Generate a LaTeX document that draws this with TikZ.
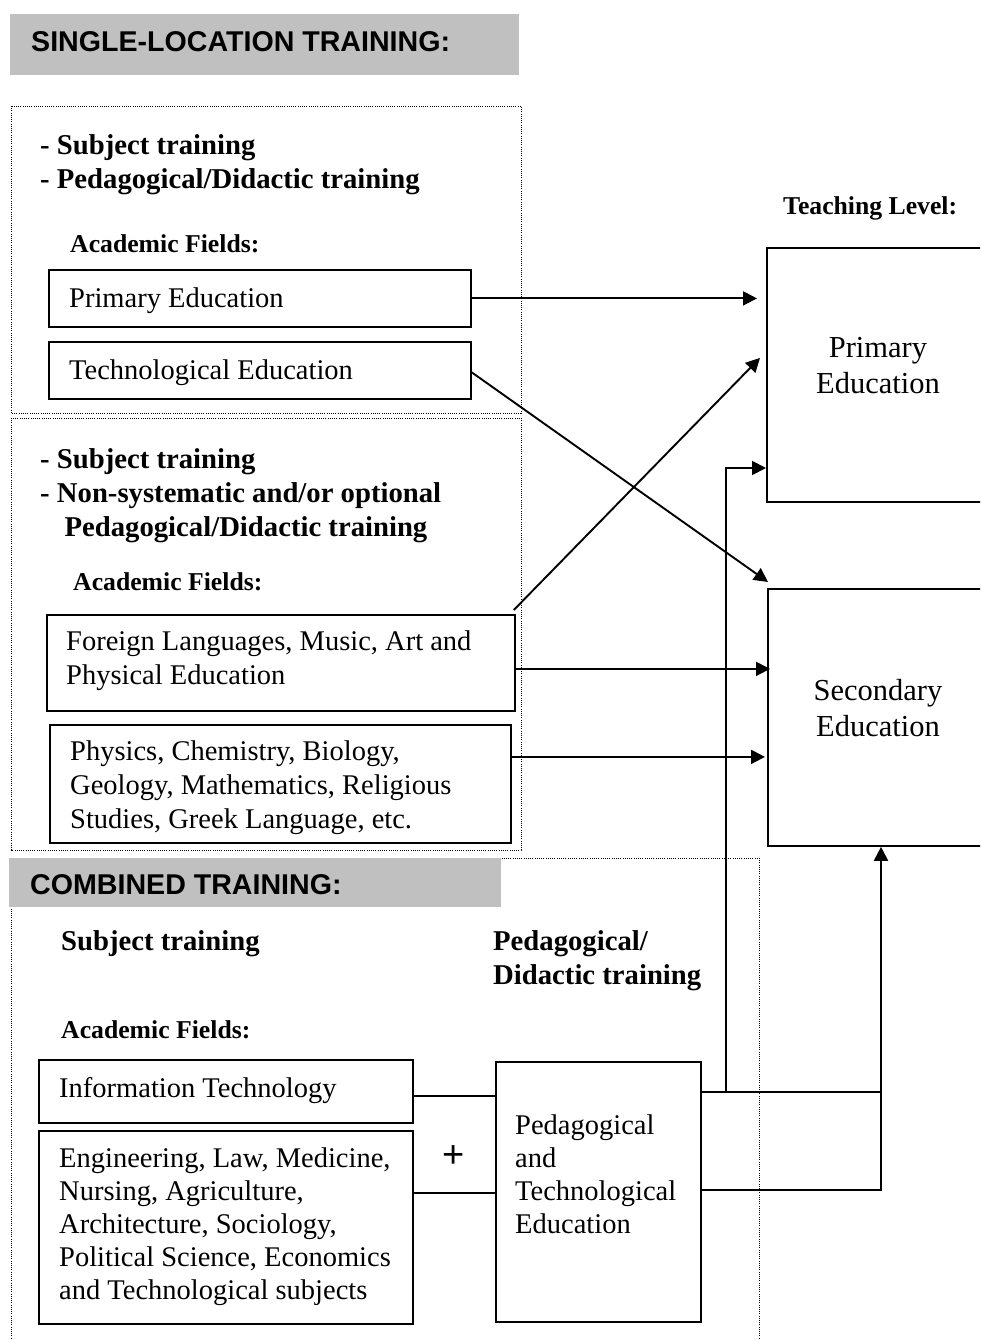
\documentclass[tikz,border=0pt]{standalone}
\usepackage{fontspec}
\setmainfont{Liberation Serif}
\setsansfont{Liberation Sans}
\usetikzlibrary{arrows.meta,calc}
\definecolor{headgray}{HTML}{C0C0C0}
\newcommand{\mlines}[1]{\begin{tabular}[t]{@{}l@{}}#1\end{tabular}}
\newcommand{\clines}[1]{\begin{tabular}[t]{@{}c@{}}#1\end{tabular}}
\begin{document}
\begin{tikzpicture}[x=1pt,y=-1pt,
  box/.style={draw,line width=1.8pt,inner sep=0pt,anchor=north west},
  dotbox/.style={draw,line width=0.9pt,dash pattern=on 1pt off 1.2pt},
  headbox/.style={fill=headgray,inner sep=0pt,anchor=north west},
  headtxt/.style={anchor=base west,inner sep=0pt,font=\fontsize{28.6}{34}\selectfont\sffamily\bfseries},
  txt/.style={anchor=base west,inner sep=0pt,font=\fontsize{28.5}{34}\selectfont},
  txtb/.style={anchor=base west,inner sep=0pt,font=\fontsize{28.5}{33}\selectfont},
  btxt/.style={anchor=base west,inner sep=0pt,font=\fontsize{28.7}{34}\selectfont\bfseries},
  smallb/.style={anchor=base west,inner sep=0pt,font=\fontsize{25.7}{30}\selectfont\bfseries},
  bigtxt/.style={anchor=base,inner sep=0pt,font=\fontsize{30.5}{36}\selectfont},
  conn/.style={line width=1.9pt},
  arr/.style={conn,-{Triangle[length=14pt,width=14pt]}},
]
\useasboundingbox (0,0) rectangle (980,1340);
\clip (0,0) rectangle (980,1340);

% ---------- header 1 ----------
\node[headbox,minimum width=509pt,minimum height=61pt] (h1) at (10,14) {};
\node[headtxt] (h1t) at (31,52) {SINGLE-LOCATION TRAINING:};

% ---------- dotted frames ----------
\draw[dotbox] (11,106) rectangle (521,413);
\draw[dotbox] (11,418) rectangle (521,850);
\draw[dotbox] (11,858) rectangle (759,1370);

% ---------- header 2 ----------
\node[headbox,minimum width=492pt,minimum height=49pt] (h2) at (9,858) {};
\node[headtxt] (h2t) at (30,894) {COMBINED TRAINING:};

% ---------- frame 1 ----------
\node[btxt] (s1) at (40,155) {\mlines{- Subject training\\- Pedagogical/Didactic training}};
\node[smallb] (af1) at (70,252) {Academic Fields:};
\node[box,minimum width=422pt,minimum height=57pt] (pe) at (48,269) {};
\node[txt] (pet) at (69,307) {Primary Education};
\node[box,minimum width=422pt,minimum height=57pt] (te) at (48,341) {};
\node[txt] (tet) at (69,379) {Technological Education};

% ---------- frame 2 ----------
\node[btxt] (s2) at (40,468) {\mlines{- Subject training\\- Non-systematic and/or optional\\\hspace*{0.85em}Pedagogical/Didactic training}};
\node[smallb] (af2) at (73,590) {Academic Fields:};
\node[box,minimum width=468pt,minimum height=96pt] (fl) at (46,614) {};
\node[txt] (flt) at (66,650) {\mlines{Foreign Languages, Music, Art and\\Physical Education}};
\node[box,minimum width=461pt,minimum height=118pt] (ph) at (49,724) {};
\node[txt] (pht) at (70,760) {\mlines{Physics, Chemistry, Biology,\\Geology, Mathematics, Religious\\Studies, Greek Language, etc.}};

% ---------- teaching level ----------
\node[smallb] (tl) at (783,215) {Teaching Level:};
\node[box,minimum width=240pt,minimum height=254pt] (ppe) at (766,247) {};
\node[bigtxt] (ppet) at (878,357) {\clines{Primary\\Education}};
\node[box,minimum width=240pt,minimum height=257pt] (se) at (767,588) {};
\node[bigtxt] (set) at (878,700) {\clines{Secondary\\Education}};

% ---------- combined training ----------
\node[btxt] (s3) at (61,950) {Subject training};
\node[btxt] (pd) at (493,950) {\mlines{Pedagogical/\\Didactic training}};
\node[smallb] (af3) at (61,1038) {Academic Fields:};
\node[box,minimum width=374pt,minimum height=63pt] (it) at (38,1059) {};
\node[txt] (itt) at (59,1097) {Information Technology};
\node[box,minimum width=374pt,minimum height=193pt] (eng) at (38,1130) {};
\node[txtb] (engt) at (59,1167) {\mlines{Engineering, Law, Medicine,\\Nursing, Agriculture,\\Architecture, Sociology,\\Political Science, Economics\\and Technological subjects}};
\node[font=\fontsize{38}{38}\selectfont\sffamily,inner sep=0pt] (plus) at (453.5,1157) {+};
\node[box,minimum width=205pt,minimum height=260pt] (pte) at (495,1061) {};
\node[txtb] (ptet) at (515,1134) {\mlines{Pedagogical\\and\\Technological\\Education}};

% ---------- connectors ----------
\coordinate (yIT) at (0,1096);
\coordinate (yEN) at (0,1193);
\coordinate (yA) at (0,1092);
\coordinate (yB) at (0,1190);
\coordinate (yP) at (0,468);
\coordinate (xA) at (726,0);
\coordinate (xB) at (881,0);

\draw[arr] (pe.east) -- ($(ppe.west |- pe.east)+(-9,0)$);
\draw[arr] ($(te.east)+(0,2)$) -- ($(se.north west)+(1,-6)$);
\draw[arr] ($(fl.north east)+(-2,-4)$) -- ($(ppe.west)+(-6,-17)$);
\draw[arr] ($(fl.east)+(0,6)$) -- ($(se.west |- fl.east)+(3,6)$);
\draw[arr] ($(ph.east)+(0,-27)$) -- ($(se.west |- ph.east)+(-2,-27)$);

\draw[conn] (it.east |- yIT) -- (pte.west |- yIT);
\draw[conn] (eng.east |- yEN) -- (pte.west |- yEN);
\draw[conn] (pte.east |- yA) -- (xB |- yA);
\draw[arr] (xA |- yA) -- (xA |- yP) -- (ppe.west |- yP);
\draw[arr] (pte.east |- yB) -- (xB |- yB) -- (xB |- se.south);
\end{tikzpicture}
\end{document}
